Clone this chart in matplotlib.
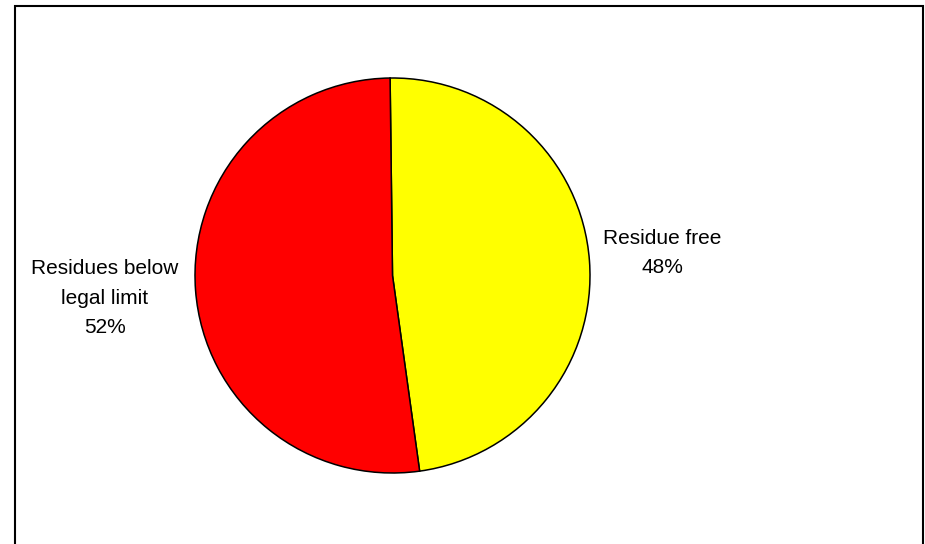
import matplotlib
matplotlib.use("Agg")
import matplotlib.pyplot as plt
from matplotlib.patches import Rectangle

plt.rcParams["font.family"] = ["Liberation Sans", "DejaVu Sans"]

labels = ["Residue free", "Residues below\nlegal limit"]
shares = [48, 52]
colors = ["#ffff00", "#ff0000"]

fig = plt.figure(figsize=(9.25, 5.44), dpi=100)
fig.patch.set_facecolor("white")

# frame around the chart area (bottom edge runs off the picture)
fig.add_artist(Rectangle((15.5 / 925, -0.05), (923 - 15.5) / 925, 1.05 - 5.5 / 544,
                         transform=fig.transFigure, fill=False,
                         edgecolor="black", linewidth=1.5))

# pie centred at about (392, 275) px, radius ~197 px
ax = fig.add_axes([195 / 925, (544 - 473) / 544, 395 / 925, 395 / 544])
ax.pie(shares, colors=colors, startangle=90.7, counterclock=False,
       wedgeprops=dict(edgecolor="black", linewidth=1.1))
ax.set_xlim(-1, 1)
ax.set_ylim(-1, 1)
ax.set_aspect("equal")

# outside labels
fig.text(662 / 925, 1 - 253 / 544, f"{labels[0]}\n{shares[0]}%",
         ha="center", va="center", fontsize=15, linespacing=1.7)
fig.text(105 / 925, 1 - 298 / 544, f"{labels[1]}\n{shares[1]}%",
         ha="center", va="center", fontsize=15, linespacing=1.7)

fig.savefig("out.png", dpi=100)
